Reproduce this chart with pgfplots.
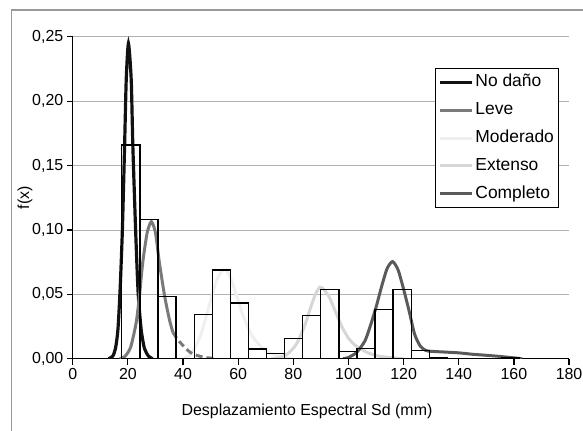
\documentclass[border=0pt]{standalone}
\usepackage{fontspec}
\setmainfont{Liberation Sans}
\usepackage{pgfplots}
\pgfplotsset{compat=1.18}

\definecolor{cNoDano}{HTML}{111111}
\definecolor{cLeve}{HTML}{7A7A7A}
\definecolor{cModerado}{HTML}{EFEFEF}
\definecolor{cExtenso}{HTML}{D6D6D6}
\definecolor{cCompleto}{HTML}{5A5A5A}

\begin{document}
\begin{tikzpicture}[font=\fontsize{16bp}{19bp}\selectfont]
\path[use as bounding box] (-73bp,-72bp) rectangle (512bp,360bp);
\draw[color=black!40, line width=1.5bp] (-61.5bp,-90bp) -- (-61.5bp,350bp) -- (530bp,350bp);
\begin{axis}[
	at={(0,0)}, anchor=south west,
	scale only axis, width=498bp, height=323bp,
	xmin=0, xmax=180, ymin=0, ymax=0.25,
	xtick={0,20,40,60,80,100,120,140,160,180},
	ytick={0,0.05,0.10,0.15,0.20,0.25},
	axis x line*=bottom, axis y line*=left,
	axis line style={line width=1.2bp, black},
	tick style={line width=1.2bp, black},
	tick align=outside, major tick length=6bp,
	ymajorgrids, grid style={black!30, line width=0.8bp},
	/pgf/number format/assume math mode=true,
	yticklabel style={/pgf/number format/.cd, fixed, fixed zerofill, precision=2, use comma},
	xlabel={Desplazamiento Espectral Sd (mm)},
	ylabel={f(x)},
	xlabel style={at={(axis description cs:0.472,-0.13)}, anchor=north},
	ylabel style={at={(axis description cs:-0.096,0.5)}, anchor=center},
	legend style={at={(axis description cs:0.729,0.904)}, anchor=north west,
		draw=black, line width=1bp, fill=white, inner xsep=3bp, inner ysep=0bp,
		font=\fontsize{17.5bp}{20bp}\selectfont,
		nodes={text height=12.5bp, text depth=4bp, inner ysep=5.75bp, inner xsep=1.5bp}},
	legend cell align=left,
	legend image code/.code={\draw[#1, line width=3bp] (0bp,0bp) -- (33bp,0bp);},
]
% curves
\addplot[cNoDano, line width=3.2bp, smooth, tension=0.4] coordinates {
	(13,0) (14.5,0.002) (15.5,0.008) (16.4,0.023) (17.2,0.055) (18.0,0.10)
	(18.8,0.165) (19.4,0.217) (20.2,0.245) (21.2,0.217) (21.8,0.165)
	(22.8,0.10) (23.7,0.052) (24.8,0.023) (26,0.008) (27.5,0.002) (29,0)
};
\addlegendentry{No daño}
\addplot[cLeve, line width=3bp, smooth, tension=0.4] coordinates {
	(17,0) (19,0.002) (21,0.009) (23,0.028) (24.2,0.049) (25.4,0.075)
	(27,0.098) (28.5,0.1065) (30,0.098) (31.4,0.075) (33.3,0.049)
	(35,0.031) (36.3,0.0206)
};
\addlegendentry{Leve}
\addplot[cModerado, line width=3bp, smooth, tension=0.4] coordinates {
	(40,0) (43,0.004) (46,0.016) (48,0.030) (50,0.045) (52,0.060)
	(54,0.068) (55.5,0.069) (57,0.064) (59,0.052) (61,0.038) (63,0.027)
	(65,0.018) (68,0.010) (71,0.005) (75,0.002) (80,0)
};
\addlegendentry{Moderado}
\addplot[cExtenso, line width=3bp, smooth, tension=0.4] coordinates {
	(72,0) (75,0.001) (78,0.004) (81,0.011) (84,0.025) (86,0.038)
	(88,0.050) (89.6,0.0555) (91,0.054) (93,0.048) (95,0.038)
	(97.7,0.0245) (100,0.016) (102.5,0.0103) (105,0.007) (107.3,0.0044)
	(111,0.002) (115,0.001) (120,0)
};
\addlegendentry{Extenso}
\addplot[cCompleto, line width=3bp, smooth, tension=0.4] coordinates {
	(98,0) (100,0.001) (103,0.005) (106,0.014) (108,0.026) (110,0.040)
	(112,0.056) (114,0.070) (116,0.0755) (118,0.069) (120,0.054)
	(122,0.037) (124,0.019) (126,0.010) (128,0.0065) (130,0.0058)
	(135,0.0052) (140,0.0046) (145,0.0035) (150,0.0027) (155,0.0018)
	(160,0.0007) (163,0)
};
\addlegendentry{Completo}
% dashed tail of Leve
\addplot[cLeve, line width=3bp, dash pattern=on 7bp off 4bp, smooth, tension=0.4, forget plot] coordinates {
	(36.3,0.0206) (38,0.015) (40,0.0103) (42,0.006) (43.5,0.0039)
	(46,0.002) (48,0.001) (52,0)
};
% histogram
\addplot[ybar interval, draw=black, fill=none, line width=1.3bp, forget plot] coordinates {
	(17.8,0.166) (24.36,0.108) (30.92,0.0485) (37.48,0) (44.04,0.0346)
	(50.6,0.069) (57.16,0.0433) (63.72,0.0077) (70.28,0.0039) (76.84,0.016)
	(83.4,0.0335) (89.96,0.0536) (96.52,0.0057) (103.08,0.0080) (109.64,0.038)
	(116.2,0.0536) (122.76,0.0064) (129.32,0.0012) (135.88,0) (142.44,0)
	(149.0,0) (155.56,0.0008) (162.12,0)
};
\end{axis}
\end{tikzpicture}
\end{document}
